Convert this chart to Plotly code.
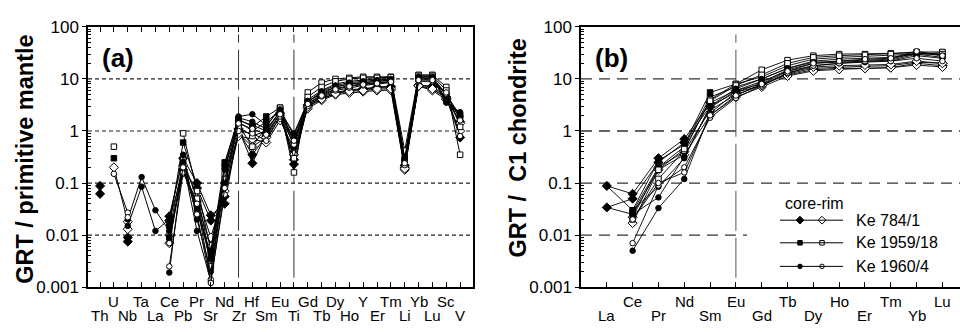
import plotly.graph_objects as go

N = None
W, H = 960, 332

# ---------------- data ----------------
ELEM_A = ["Th", "U", "Nb", "Ta", "La", "Ce", "Pb", "Pr", "Sr", "Nd", "Zr", "Hf", "Sm", "Eu",
          "Ti", "Gd", "Tb", "Dy", "Ho", "Y", "Er", "Tm", "Li", "Yb", "Lu", "Sc", "V"]
ELEM_B = ["La", "Ce", "Pr", "Nd", "Sm", "Eu", "Gd", "Tb", "Dy", "Ho", "Er", "Tm", "Yb", "Lu"]

# panel (a): GRT / primitive mantle
A_784_C1 = [0.088, N, 0.009, N, N, 0.023, 0.3, 0.1, 0.024, 0.04, 1.1, 0.24, 0.9, 2.2, 0.23, 3.2, 4.5, 5.5, 6.2, 6.5, 7.0, 7.2, 0.2, 7.5, 7.3, 4.5, 0.75]
A_784_C2 = [0.062, N, 0.0075, N, N, 0.019, 0.18, 0.08, 0.019, 0.055, 1.0, 0.35, 0.8, 2.0, 0.28, 3.0, 4.2, 5.3, 6.0, 6.3, 6.8, 7.0, 0.22, 7.6, 7.0, 4.2, 1.5]
A_784_R1 = [N, 0.2, 0.018, N, N, 0.007, 0.22, 0.06, 0.009, 0.07, 0.8, 0.7, 0.6, 1.6, 0.45, 2.7, 3.9, 5.0, 5.4, 5.7, 6.0, 6.1, 0.18, 7.3, 6.0, 4.0, 1.0]
A_784_R2 = [N, N, 0.013, N, N, 0.01, 0.16, 0.045, 0.006, 0.1, 0.9, 0.5, 0.75, 1.8, 0.35, 2.9, 4.1, 5.2, 5.8, 6.0, 6.4, 6.5, 0.19, 7.4, 6.4, 4.3, 1.4]
A_1959_C1 = [N, 0.3, N, N, N, 0.015, 0.6, 0.09, 0.005, 0.25, 1.7, 1.2, 1.9, 2.8, 0.6, 4.0, 6.0, 8.0, 9.0, 9.5, 10.0, 10.0, 0.3, 11.0, 11.0, 5.0, 2.0]
A_1959_C2 = [N, N, N, N, N, 0.009, 0.2, 0.035, 0.004, 0.2, 1.5, 1.0, 1.5, 2.5, 0.5, 3.6, 5.5, 7.0, 8.0, 8.5, 9.0, 9.5, 0.27, 10.0, 10.0, 4.8, 1.8]
A_1959_R1 = [N, 0.5, N, N, N, N, 0.9, 0.07, 0.003, 0.15, 1.3, 0.5, 1.2, 2.8, 0.16, 5.5, 8.5, 10.0, 10.5, 11.0, 11.0, 11.0, 0.25, 12.0, 12.0, 7.0, 0.35]
A_1959_R2 = [N, N, N, N, N, N, 0.28, 0.05, 0.0025, 0.12, 1.2, 0.8, 1.0, 2.4, 0.3, 4.5, 7.0, 9.0, 10.0, 10.5, 10.5, 10.8, 0.42, 11.5, 11.5, 6.0, 1.2]
A_1960_C1 = [N, N, 0.02, 0.13, 0.03, 0.012, 0.25, 0.03, 0.0035, 0.22, 1.9, 2.1, 1.3, 2.6, 0.8, 3.8, 5.2, 7.0, 8.0, 8.5, 9.0, 9.5, 0.3, 10.5, 10.5, 3.5, 2.3]
A_1960_C2 = [N, N, 0.015, 0.085, 0.012, 0.02, 0.35, 0.02, 0.002, 0.1, 1.8, 1.5, 1.1, 2.3, 0.7, 3.4, 5.0, 6.5, 7.5, 8.0, 8.5, 9.0, 0.25, 10.0, 10.0, 3.8, 2.1]
A_1960_C3 = [N, N, N, N, N, 0.0019, 0.25, 0.012, 0.0013, 0.18, 1.6, 1.3, 1.0, 2.4, 0.9, 3.6, 5.8, 7.5, 8.5, 9.0, 9.5, 10.0, 0.28, 11.0, 11.0, 4.0, 1.9]
A_1960_R1 = [N, 0.15, 0.027, N, N, 0.0025, 0.16, 0.04, 0.0014, 0.06, 1.0, 0.9, 0.65, 1.9, 0.55, 3.0, 4.6, 6.0, 6.8, 7.5, 8.0, 8.5, 0.22, 9.0, 9.0, 5.2, 0.8]
A_1960_R2 = [N, N, 0.022, N, N, 0.007, 0.2, 0.025, 0.0012, 0.08, 1.4, 1.1, 0.85, 2.1, 0.65, 3.3, 4.8, 6.3, 7.2, 7.8, 8.2, 8.8, 0.24, 9.5, 9.5, 5.5, 1.6]

# panel (b): GRT / C1 chondrite
B_784_C1 = [0.088, 0.062, 0.3, 0.7, 3.5, 6.0, 8.0, 12.0, 15.0, 16.0, 16.0, 16.5, 20.0, 18.0]
B_784_C2 = [0.034, 0.05, 0.25, 0.6, 3.0, 5.5, 7.5, 12.5, 16.0, 17.0, 17.5, 18.0, 21.0, 20.0]
B_784_R1 = [N, 0.017, 0.18, 0.35, 2.0, 4.5, 7.0, 11.4, 14.3, 15.3, 16.0, 16.5, 18.5, 17.0]
B_784_R2 = [N, 0.022, 0.2, 0.4, 2.5, 5.0, 7.5, 13.0, 17.0, 18.0, 18.5, 19.0, 22.0, 20.0]
B_1959_C1 = [N, 0.03, 0.27, 0.55, 5.5, 8.0, 11.0, 18.0, 24.0, 26.0, 27.0, 28.0, 30.0, 30.0]
B_1959_C2 = [N, 0.028, 0.2, 0.5, 4.5, 7.0, 10.0, 16.0, 22.0, 24.0, 25.0, 26.0, 30.0, 32.0]
B_1959_R1 = [N, 0.02, 0.12, 0.42, 4.0, 8.0, 15.0, 23.0, 28.0, 30.0, 30.0, 31.0, 33.0, 33.0]
B_1959_R2 = [N, 0.025, 0.18, 0.45, 3.8, 7.5, 12.0, 20.0, 26.0, 28.0, 29.0, 30.0, 32.0, 30.0]
B_1960_C1 = [0.088, 0.03, 0.085, 0.3, 3.0, 6.5, 10.0, 16.0, 21.0, 22.0, 23.0, 24.0, 32.0, 28.0]
B_1960_C2 = [0.034, 0.025, 0.053, 0.32, 2.8, 6.0, 9.0, 14.0, 18.0, 20.0, 21.0, 22.0, 28.0, 25.0]
B_1960_C3 = [N, 0.005, 0.033, 0.12, 2.2, 5.5, 8.5, 15.0, 20.0, 21.0, 22.0, 23.0, 30.0, 26.0]
B_1960_R1 = [N, 0.007, 0.09, 0.2, 1.8, 4.3, 7.5, 13.0, 18.0, 20.0, 22.0, 22.0, 25.0, 22.0]
B_1960_R2 = [N, 0.02, 0.1, 0.16, 2.0, 4.8, 8.0, 14.0, 20.0, 22.0, 24.0, 25.0, 34.0, 28.0]

Y_TICK_VALS = [0.001, 0.01, 0.1, 1, 10, 100]
Y_TICK_TEXT = ["0.001", "0.01", "0.1", "1", "10", "100"]
GRID_A = [0.01, 0.1, 1, 10]
GRID_B = [0.1, 1, 10]
GRID_B_SHORT = [0.01]
VLINES_A = ["Zr", "Ti"]
VLINES_B = ["Eu"]
SAMPLES = ["Ke 784/1", "Ke 1959/18", "Ke 1960/4"]

# ---------------- styles ----------------
SYM = {"Ke 784/1": "diamond", "Ke 1959/18": "square", "Ke 1960/4": "circle"}
MSIZE = {"diamond": 7, "square": 5.5, "circle": 5.5}

SERIES = [
    ("Ke 784/1", True, A_784_C1, B_784_C1),
    ("Ke 784/1", True, A_784_C2, B_784_C2),
    ("Ke 784/1", False, A_784_R1, B_784_R1),
    ("Ke 784/1", False, A_784_R2, B_784_R2),
    ("Ke 1959/18", True, A_1959_C1, B_1959_C1),
    ("Ke 1959/18", True, A_1959_C2, B_1959_C2),
    ("Ke 1959/18", False, A_1959_R1, B_1959_R1),
    ("Ke 1959/18", False, A_1959_R2, B_1959_R2),
    ("Ke 1960/4", True, A_1960_C1, B_1960_C1),
    ("Ke 1960/4", True, A_1960_C2, B_1960_C2),
    ("Ke 1960/4", True, A_1960_C3, B_1960_C3),
    ("Ke 1960/4", False, A_1960_R1, B_1960_R1),
    ("Ke 1960/4", False, A_1960_R2, B_1960_R2),
]

FONT = "Liberation Sans, Arial, Helvetica, sans-serif"

fig = go.Figure()


def px(x):
    return x / W


def py(y):
    return 1 - y / H


for sample, core, ya, yb in SERIES:
    sym = SYM[sample]
    marker = dict(symbol=sym, size=MSIZE[sym], color="black" if core else "white",
                  line=dict(color="black", width=1))
    fig.add_trace(go.Scatter(x=ELEM_A, y=ya, mode="lines+markers", xaxis="x", yaxis="y",
                             line=dict(color="black", width=1), marker=marker,
                             showlegend=False, connectgaps=False))
    fig.add_trace(go.Scatter(x=ELEM_B, y=yb, mode="lines+markers", xaxis="x2", yaxis="y2",
                             line=dict(color="black", width=0.9), marker=marker,
                             showlegend=False, connectgaps=False))

# ---------------- axes ----------------
A_L, A_R, B_L, B_R, Y_T, Y_B = 88, 473, 581, W, 19, 295
A_DOM = [px(A_L), px(A_R)]
B_DOM = [px(B_L), 1.0]
Y_DOM = [py(Y_B), py(Y_T)]

minor_vals = [k * 10.0 ** e for e in range(-3, 2) for k in range(2, 10)]

common_x = dict(type="category", tickmode="array", ticks="inside", ticklen=5, tickwidth=1,
                tickcolor="black", showticklabels=False, showline=True, linewidth=1.5,
                linecolor="black", showgrid=False, zeroline=False)
common_y = dict(type="log", range=[-3, 2], domain=Y_DOM, tickmode="array",
                tickvals=Y_TICK_VALS, ticktext=Y_TICK_TEXT, ticks="outside", ticklen=4,
                tickwidth=1, tickcolor="black", showline=True, linewidth=1.5,
                linecolor="black", showgrid=False, zeroline=False,
                tickfont=dict(family=FONT, size=17, color="black"),
                minor=dict(tickvals=minor_vals, ticks="inside",
                           ticklen=3, tickwidth=1, tickcolor="black", showgrid=False))

fig.update_layout(
    width=W, height=H, margin=dict(l=0, r=0, t=0, b=0),
    paper_bgcolor="white", plot_bgcolor="white",
    font=dict(family=FONT, color="black"),
    xaxis=dict(common_x, domain=A_DOM, anchor="y", categoryorder="array",
               categoryarray=ELEM_A, tickvals=ELEM_A, range=[-0.87, 26.93], mirror="ticks"),
    yaxis=dict(common_y, anchor="x", mirror=True),
    xaxis2=dict(common_x, domain=B_DOM, anchor="y2", categoryorder="array",
                categoryarray=ELEM_B, tickvals=ELEM_B, range=[-1.0, 13.68], mirror=True),
    yaxis2=dict(common_y, anchor="x2", mirror=False),
    # helper pixel-space axes overlaying panel (b), for the hand-drawn legend
    xaxis3=dict(overlaying="x2", range=[B_L, B_R], visible=False, anchor="y3"),
    yaxis3=dict(overlaying="y2", range=[Y_B, Y_T], visible=False, anchor="x3"),
)

# ---------------- grid / reference lines ----------------
shapes = []
for v in GRID_A:
    shapes.append(dict(type="line", xref="x domain", x0=0, x1=1, yref="y",
                       y0=v, y1=v, layer="below",
                       line=dict(color="#222", width=1.2, dash="4px,3px")))
for v in GRID_B:
    shapes.append(dict(type="line", xref="x2 domain", x0=0, x1=1, yref="y2",
                       y0=v, y1=v, layer="below",
                       line=dict(color="#333", width=1.3, dash="11px,7px")))
for v in GRID_B_SHORT:
    shapes.append(dict(type="line", xref="x2 domain", x0=0, x1=(747 - B_L) / (B_R - B_L),
                       yref="y2", y0=v, y1=v, layer="below",
                       line=dict(color="#333", width=1.3, dash="11px,7px")))
for e in VLINES_A:
    i = ELEM_A.index(e)
    shapes.append(dict(type="line", xref="x", x0=i, x1=i, yref="y domain",
                       y0=0.036, y1=0.971, layer="below",
                       line=dict(color="#333", width=1, dash="40px,7px")))
for e in VLINES_B:
    i = ELEM_B.index(e)
    shapes.append(dict(type="line", xref="x2", x0=i, x1=i, yref="y2 domain",
                       y0=0.036, y1=0.971, layer="below",
                       line=dict(color="#555", width=1, dash="40px,7px")))

annotations = []


def note(x, y, text, size, xanchor="center", angle=0, xref="paper"):
    annotations.append(dict(x=x, y=y, xref=xref, yref="paper", text=text, showarrow=False,
                            xanchor=xanchor, yanchor="middle", textangle=angle,
                            font=dict(family=FONT, size=size, color="black")))


# x category labels in two staggered rows
for elems, xr in ((ELEM_A, "x"), (ELEM_B, "x2")):
    for i, e in enumerate(elems):
        upper = (i % 2 == 1)
        note(i, py(310.5 if upper else 325), e, 15, xref=xr)

# axis titles
note(px(25), py(160), "<b>GRT / primitive mantle</b>", 23.5, angle=-90)
note(px(518), py(148), "<b>GRT /  C1 chondrite</b>", 23.5, angle=-90)
# panel letters
note(px(118), py(52), "<b>(a)</b>", 26)
note(px(611), py(52), "<b>(b)</b>", 26)

# ---------------- custom legend ----------------
LEG_ROWS = [224, 248, 273]
note(px(814), py(206), "core-rim", 16)
for sample, yr in zip(SAMPLES, LEG_ROWS):
    shapes.append(dict(type="line", xref="paper", yref="paper", x0=px(780), x1=px(843),
                       y0=py(yr), y1=py(yr), line=dict(color="black", width=1)))
    note(px(854), py(yr), sample, 16, xanchor="left")
    sym = SYM[sample]
    fig.add_trace(go.Scatter(x=[800, 822], y=[yr, yr], mode="markers", xaxis="x3", yaxis="y3",
                             marker=dict(symbol=sym, size=MSIZE[sym] - 1,
                                         color=["black", "white"],
                                         line=dict(color="black", width=1)),
                             showlegend=False, hoverinfo="skip"))

fig.update_layout(shapes=shapes, annotations=annotations)

# remove the browser's default 8px body margin so the figure sits at the page origin
fig.write_html("out.html", config={"displayModeBar": False},
               post_script="document.body.style.margin='0';document.body.style.overflow='hidden';")
